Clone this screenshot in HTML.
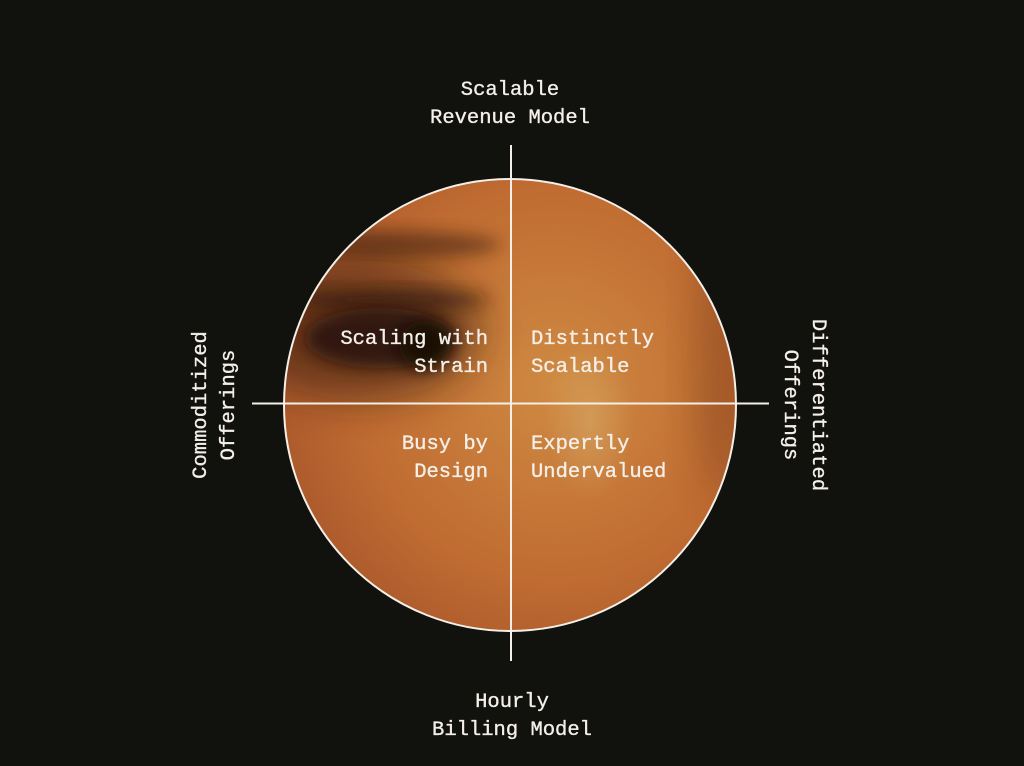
<!DOCTYPE html>
<html><head><meta charset="utf-8"><style>
html,body{margin:0;padding:0;background:#11110e;}
svg{display:block}
text{font-family:"Liberation Mono","DejaVu Sans Mono",monospace;font-size:20.5px;fill:#f4efe8;stroke:#f4efe8;stroke-width:0.35px;}
</style></head><body>
<svg width="1024" height="766" viewBox="0 0 1024 766" xmlns="http://www.w3.org/2000/svg">
<defs>
<clipPath id="c"><circle cx="510" cy="405" r="226"/></clipPath>
<filter id="b8" x="-50%" y="-50%" width="200%" height="200%"><feGaussianBlur stdDeviation="8"/></filter>
<filter id="b20" x="-50%" y="-50%" width="200%" height="200%"><feGaussianBlur stdDeviation="20"/></filter>
<radialGradient id="base" cx="0.6" cy="0.45" r="0.7">
<stop offset="0" stop-color="#cf8a42"/>
<stop offset="0.6" stop-color="#c06c32"/>
<stop offset="1" stop-color="#a4522a"/>
</radialGradient>
<radialGradient id="hl" cx="0.5" cy="0.5" r="0.5">
<stop offset="0" stop-color="#d8b070" stop-opacity="0.5"/>
<stop offset="1" stop-color="#d8b070" stop-opacity="0"/>
</radialGradient>
</defs>
<g clip-path="url(#c)">
<rect x="280" y="175" width="460" height="465" fill="url(#base)"/>
<ellipse cx="360" cy="330" rx="120" ry="70" fill="#3a1c0c" opacity="0.6" filter="url(#b20)"/>
<ellipse cx="390" cy="245" rx="110" ry="14" fill="#3a1e0e" opacity="0.55" filter="url(#b8)"/>
<ellipse cx="390" cy="300" rx="100" ry="10" fill="#2a140a" opacity="0.6" filter="url(#b8)"/>
<ellipse cx="380" cy="338" rx="75" ry="30" fill="#1e1008" opacity="0.75" filter="url(#b8)"/>
<ellipse cx="425" cy="345" rx="26" ry="24" fill="#120a05" opacity="0.9" filter="url(#b8)"/>
<ellipse cx="590" cy="420" rx="45" ry="80" fill="url(#hl)"/>
<ellipse cx="725" cy="360" rx="30" ry="140" fill="#5a2810" opacity="0.3" filter="url(#b20)"/>
</g>
<circle cx="510" cy="405" r="226" fill="none" stroke="#f4efe8" stroke-width="2"/>
<line x1="511" y1="145" x2="511" y2="661" stroke="#f4efe8" stroke-width="2"/>
<line x1="252" y1="403.5" x2="769" y2="403.5" stroke="#f4efe8" stroke-width="2"/>

<text x="510" y="95" text-anchor="middle">Scalable</text>
<text x="510" y="123" text-anchor="middle">Revenue Model</text>
<text x="512" y="707" text-anchor="middle">Hourly</text>
<text x="512" y="735" text-anchor="middle">Billing Model</text>

<text transform="translate(206,405) rotate(-90)" text-anchor="middle">Commoditized</text>
<text transform="translate(234,405) rotate(-90)" text-anchor="middle">Offerings</text>
<text transform="translate(813,405) rotate(90)" text-anchor="middle">Differentiated</text>
<text transform="translate(785,405) rotate(90)" text-anchor="middle">Offerings</text>

<text x="488" y="344" text-anchor="end">Scaling with</text>
<text x="488" y="372" text-anchor="end">Strain</text>
<text x="531" y="344">Distinctly</text>
<text x="531" y="372">Scalable</text>
<text x="488" y="449" text-anchor="end">Busy by</text>
<text x="488" y="477" text-anchor="end">Design</text>
<text x="531" y="449">Expertly</text>
<text x="531" y="477">Undervalued</text>
</svg>
</body></html>
